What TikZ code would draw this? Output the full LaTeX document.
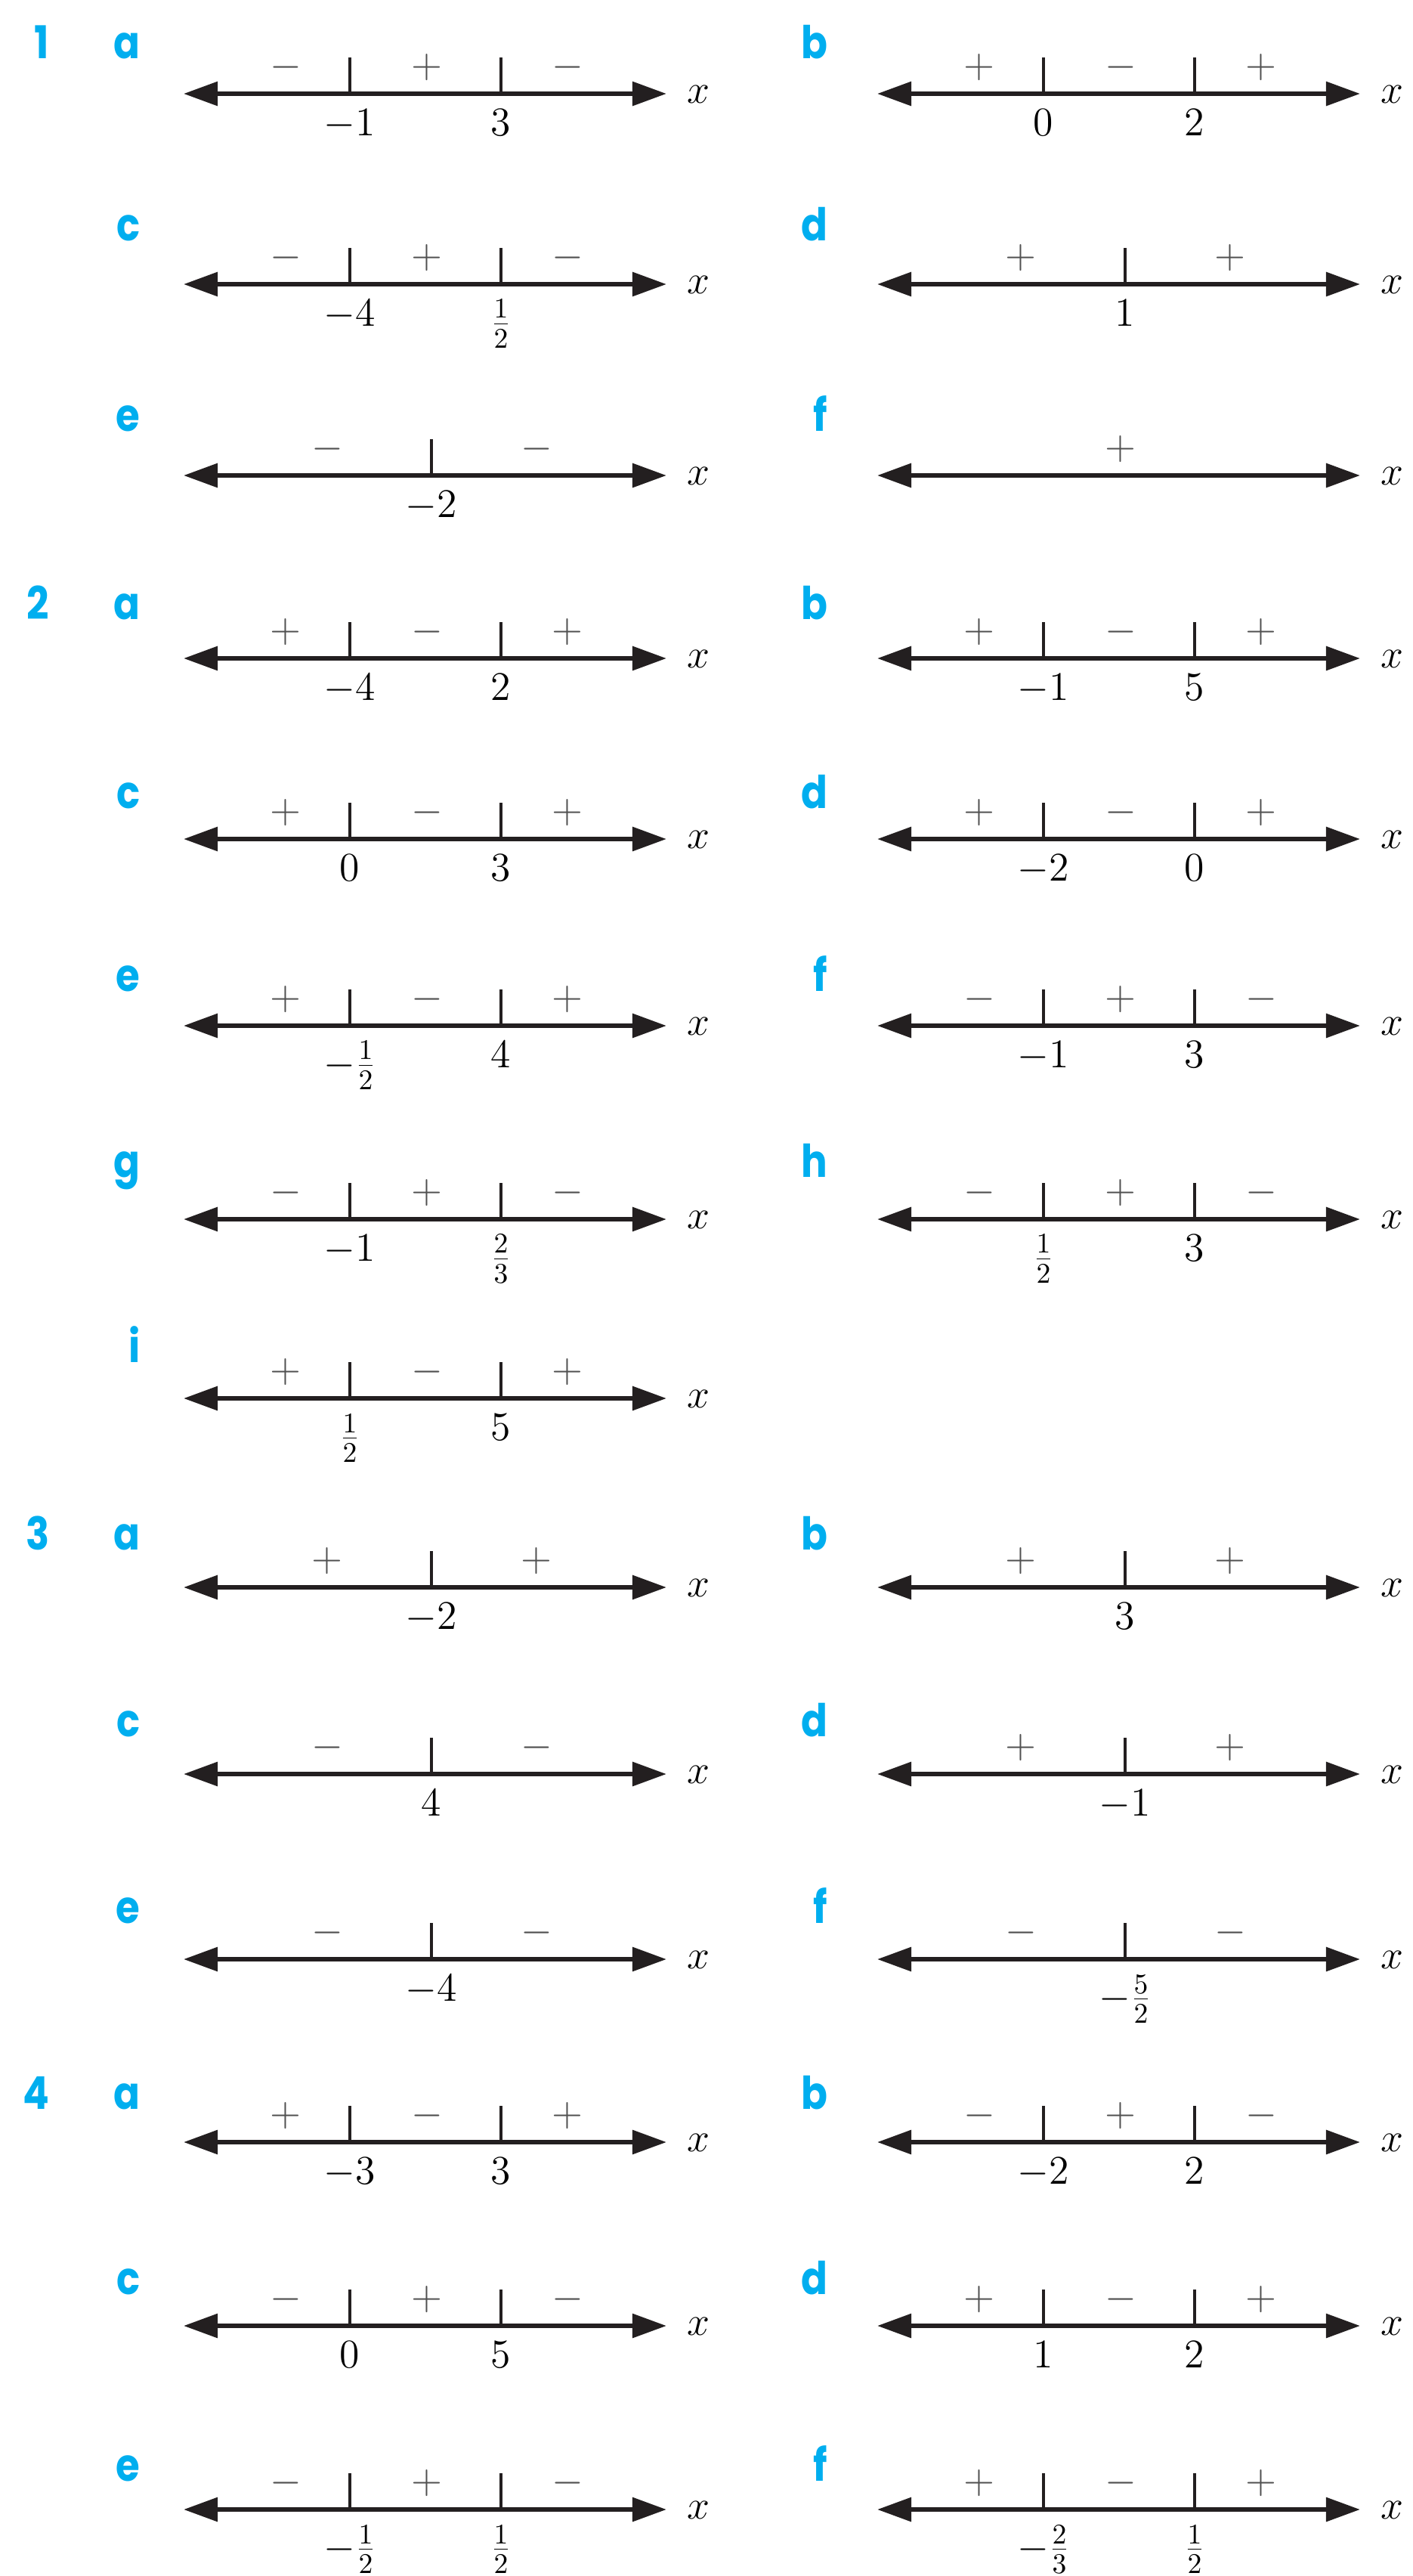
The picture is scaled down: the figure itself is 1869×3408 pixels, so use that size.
\RequirePackage{fix-cm}
\documentclass[tikz,border=0pt]{standalone}
\usepackage{fontspec}
\newfontfamily\labfont{Poppins}[FakeStretch=0.86]
\usetikzlibrary{arrows.meta}
\definecolor{qblue}{HTML}{00AEEF}
\definecolor{signgray}{HTML}{505050}
\definecolor{axisblack}{HTML}{231F20}
\tikzset{
  mathfont/.style={font=\fontsize{15.3}{18}\selectfont},
  axis/.style={line width=1.7pt, draw=axisblack,
    {Triangle[length=0.45cm,width=0.31cm]}-{Triangle[length=0.45cm,width=0.31cm]}},
  tickline/.style={line width=1.1pt, draw=axisblack},
  signlab/.style={mathfont, text=signgray, inner sep=0pt},
  numlab/.style={mathfont, anchor=north, inner sep=0pt},
  xlab/.style={mathfont, anchor=base, inner sep=0pt},
  qlab/.style={anchor=base east, inner sep=0pt, text=qblue,
    font=\labfont\bfseries\fontsize{17}{20}\selectfont},
}
% axis with arrows and x label
\newcommand\axisrow[3]{%
  \coordinate (#1L) at (#2,#3);
  \coordinate (#1R) at (#2+639,#3);
  \draw[axis] (#1L) -- (#1R);
  \node[xlab] (#1x) at (#2+681,#3+12) {$x$};
}
% two critical points
\newcommand\twoticks[8]{%
  \axisrow{#1}{#2}{#3}
  \coordinate (#1ta) at (#2+220,#3); \coordinate (#1ua) at (#2+220,#3-48);
  \coordinate (#1tb) at (#2+420,#3); \coordinate (#1ub) at (#2+420,#3-48);
  \draw[tickline] (#1ta) -- (#1ua);
  \draw[tickline] (#1tb) -- (#1ub);
  \node[numlab] (#1na) at (#2+220,#3+20) {$#4$};
  \node[numlab] (#1nb) at (#2+420,#3+20) {$#5$};
  \node[signlab] (#1sa) at (#2+135,#3-35) {$#6$};
  \node[signlab] (#1sb) at (#2+322,#3-35) {$#7$};
  \node[signlab] (#1sc) at (#2+508,#3-35) {$#8$};
}
% one critical point
\newcommand\oneticks[6]{%
  \axisrow{#1}{#2}{#3}
  \coordinate (#1ta) at (#2+328,#3); \coordinate (#1ua) at (#2+328,#3-48);
  \draw[tickline] (#1ta) -- (#1ua);
  \node[numlab] (#1na) at (#2+328,#3+20) {$#4$};
  \node[signlab] (#1sa) at (#2+190,#3-35) {$#5$};
  \node[signlab] (#1sb) at (#2+467,#3-35) {$#6$};
}
% no critical point
\newcommand\noticks[4]{%
  \axisrow{#1}{#2}{#3}
  \node[signlab] (#1sa) at (#2+322,#3-35) {$#4$};
}
\newcommand\plab[4]{\node[qlab] (#1) at (#2,#3) {#4};}

\begin{document}
\begin{tikzpicture}[x=0.01cm,y=-0.01cm]
\useasboundingbox (0,0) rectangle (1869,3408);
% ---------------- Question 1
\plab{q1}{66}{124-47}{1}
\plab{q1a}{186}{124-47}{a}   \twoticks{p1a}{243}{124}{-1}{3}{-}{+}{-}
\plab{q1b}{1096}{124-47}{b}  \twoticks{p1b}{1161}{124}{0}{2}{+}{-}{+}
\plab{q1c}{186}{376-58}{c}   \twoticks{p1c}{243}{376}{-4}{\frac{1}{2}}{-}{+}{-}
\plab{q1d}{1096}{376-58}{d}  \oneticks{p1d}{1161}{376}{1}{+}{+}
\plab{q1e}{186}{629-59}{e}   \oneticks{p1e}{243}{629}{-2}{-}{-}
\plab{q1f}{1096}{629-59}{f}  \noticks{p1f}{1161}{629}{+}
% ---------------- Question 2
\plab{q2}{66}{871-52}{2}
\plab{q2a}{186}{871-52}{a}   \twoticks{p2a}{243}{871}{-4}{2}{+}{-}{+}
\plab{q2b}{1096}{871-52}{b}  \twoticks{p2b}{1161}{871}{-1}{5}{+}{-}{+}
\plab{q2c}{186}{1110-41}{c}  \twoticks{p2c}{243}{1110}{0}{3}{+}{-}{+}
\plab{q2d}{1096}{1110-41}{d} \twoticks{p2d}{1161}{1110}{-2}{0}{+}{-}{+}
\plab{q2e}{186}{1357-46}{e}  \twoticks{p2e}{243}{1357}{-\frac{1}{2}}{4}{+}{-}{+}
\plab{q2f}{1096}{1357-46}{f} \twoticks{p2f}{1161}{1357}{-1}{3}{-}{+}{-}
\plab{q2g}{186}{1613-56}{g}  \twoticks{p2g}{243}{1613}{-1}{\frac{2}{3}}{-}{+}{-}
\plab{q2h}{1096}{1613-56}{h} \twoticks{p2h}{1161}{1613}{\frac{1}{2}}{3}{-}{+}{-}
\plab{q2i}{186}{1850-48}{i}  \twoticks{p2i}{243}{1850}{\frac{1}{2}}{5}{+}{-}{+}
% ---------------- Question 3
\plab{q3}{66}{2100-50}{3}
\plab{q3a}{186}{2100-50}{a}  \oneticks{p3a}{243}{2100}{-2}{+}{+}
\plab{q3b}{1096}{2100-50}{b} \oneticks{p3b}{1161}{2100}{3}{+}{+}
\plab{q3c}{186}{2347-50}{c}  \oneticks{p3c}{243}{2347}{4}{-}{-}
\plab{q3d}{1096}{2347-50}{d} \oneticks{p3d}{1161}{2347}{-1}{+}{+}
\plab{q3e}{186}{2592-48}{e}  \oneticks{p3e}{243}{2592}{-4}{-}{-}
\plab{q3f}{1096}{2592-48}{f} \oneticks{p3f}{1161}{2592}{-\frac{5}{2}}{-}{-}
% ---------------- Question 4
\plab{q4}{66}{2834-44}{4}
\plab{q4a}{186}{2834-44}{a}  \twoticks{p4a}{243}{2834}{-3}{3}{+}{-}{+}
\plab{q4b}{1096}{2834-44}{b} \twoticks{p4b}{1161}{2834}{-2}{2}{-}{+}{-}
\plab{q4c}{186}{3077-42}{c}  \twoticks{p4c}{243}{3077}{0}{5}{-}{+}{-}
\plab{q4d}{1096}{3077-42}{d} \twoticks{p4d}{1161}{3077}{1}{2}{+}{-}{+}
\plab{q4e}{186}{3320-38}{e}  \twoticks{p4e}{243}{3320}{-\frac{1}{2}}{\frac{1}{2}}{-}{+}{-}
\plab{q4f}{1096}{3320-38}{f} \twoticks{p4f}{1161}{3320}{-\frac{2}{3}}{\frac{1}{2}}{+}{-}{+}
\end{tikzpicture}
\end{document}
